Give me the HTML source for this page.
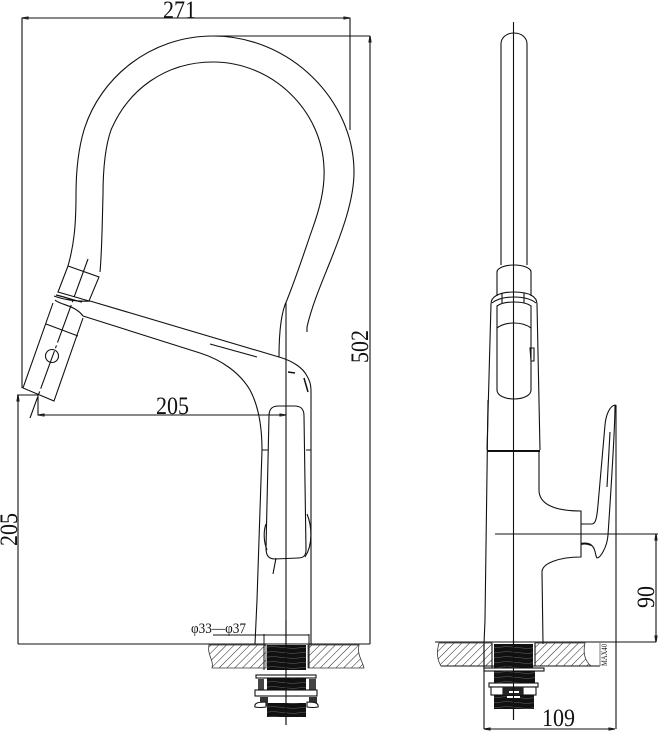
<!DOCTYPE html>
<html><head><meta charset="utf-8"><style>
html,body{margin:0;padding:0;background:#fff}
svg{display:block}
text{font-family:"Liberation Serif",serif;fill:#111}
</style></head><body>
<svg width="658" height="732" viewBox="0 0 658 732" xmlns="http://www.w3.org/2000/svg">
<defs>
<pattern id="h" width="5.500" height="5.500" patternUnits="userSpaceOnUse" patternTransform="rotate(45)"><line x1="0" y1="0" x2="0" y2="5.500" stroke="#222" stroke-width="1"/></pattern>
<pattern id="t" width="39" height="5" patternUnits="userSpaceOnUse"><rect width="39" height="5" fill="#111"/><path d="M0 1.500L20 3.500L39 1.500" stroke="#666" stroke-width=".5" fill="none"/></pattern>
</defs>
<g fill="none" stroke="#111" stroke-width="1.100">
<!-- dims left -->
<path d="M22 388V18H350V130M17 395H38V415H286M18 395V644M18 644H370M370 36V644M213 36H370"/>
<path d="M22 18l6 -1v2zM350 18l-6 -1v2z" fill="#555"/>
<path d="M38 415l6 -1v2zM286 415l-6 -1v2z" fill="#555"/>
<path d="M18 395l-1 6h2zM370 36l-1 6h2z" fill="#555"/>
<path d="M286 303V725"/>
<!-- tube -->
<path d="M279 357C279 330 282 310 287 300C297 275 305 250 312 230C320 208 325 188 324 168C322 110 272 62 213 62C165 62 128 90 111 130C104 150 103 175 103 195C102 230 102 250 100 272"/>
<path d="M307 332V327C312 305 322 282 330 262C342 232 354 200 354 172C354 100 290 36 213 36C150 36 100 78 84 130C78 150 76 175 76 195C76 225 74 245 68 266"/>
<path d="M68 266L99 277L89 301L58 292Z"/>
<path d="M53 303L23 388L54 401L83 318"/>
<path d="M46 324L78 336"/>
<circle cx="52" cy="356" r="6.500"/>
<path d="M54 296C62 299 76 302 90 301M55 300C60 305 75 305 83 316M56 295C62 296 72 300 82 302" stroke-width="1.200"/>
<path d="M90 301L279 357C293 361 303 368 307 376C310 381 311 385 311 392V442"/>
<path d="M83 316L200 353C222 360 240 373 250 390C258 405 262 425 262 450L257 600L255 644"/>
<path d="M210 344L257 357"/>
<path d="M88 259L30 418" stroke-dasharray="40 3 3 3"/>
<path d="M311 442V644"/>
<path d="M269 416C269 408 273 406 279 406H294C300 406 304 408 304 416L306 550C306 556 303 558 298 558L275 559C269 559 266 556 266 548Z"/>
<path d="M262 450H268M306 450H311"/>
<path d="M266 524C263 532 264 543 267 550M307 514C312 526 313 545 305 557M276 558L273 574"/>
<path d="M288 372L295 373M304 378L308 392" stroke-width="1.500"/>
<!-- right view -->
<path d="M501 265V44C501 38 506 33 514 33C522 33 527 38 527 44V265"/>
<path d="M513.500 22V720"/>
<path d="M497 296V272C497 268 505 265 514 265C523 265 531 268 531 272V296"/>
<path d="M487 450L491 304C491 297 498 292 514 292C530 292 537 297 537 304L540 450"/>
<path d="M492 303C497 299 505 297 514 297C523 297 531 299 536 303M502 293V303M524 293V303"/>
<path d="M497 306C501 303 507 302 514 302C521 302 527 303 531 306V390C531 396 522 399 514 399C506 399 497 396 497 390Z"/>
<path d="M497 328C501 325 507 323 514 323C521 323 527 325 531 328"/>
<path d="M530 348H534V361H531Z"/>
<path d="M487 451H540" stroke-width="2"/>
<path d="M488 400L485 620L484 644"/>
<path d="M539 451V490C539 503 552 511 581 511V557C560 557 542 563 542 572L543 644"/>
<path d="M581 524H592C596 524 597 516 598 505L605 425C606 414 610 406 615 405C615 430 611 490 608 535C607 548 600 558 597 558C595 556 596 548 591 545C588 543 585 544 581 544"/>
<path d="M581 544C585 543 589 544 591 545" stroke-width="2"/>
<path d="M610 432L607 487"/>
<path d="M495 534H658M616 405V729M656 534V642M435 642H656M484 644V729M484 729H615"/>
<path d="M656 534l-1 6h2zM656 642l-1 -6h2zM484 729l6 -1v2zM615 729l-6 -1v2z" fill="#555"/>
</g>
<!-- base left -->
<path d="M209 645H266V668H212C214 660 207 655 209 645Z" fill="url(#h)" stroke="#333" stroke-width=".8"/>
<path d="M308 645H359C357 655 362 660 364 668H308Z" fill="url(#h)" stroke="#333" stroke-width=".8"/>
<rect x="267" y="645" width="39" height="25" fill="url(#t)"/>
<rect x="267" y="678" width="39" height="12" fill="url(#t)"/>
<rect x="258" y="679" width="6" height="11" fill="#444"/>
<rect x="309" y="679" width="7" height="11" fill="#444"/>
<rect x="267" y="703" width="39" height="14" fill="url(#t)"/>
<rect x="260" y="697" width="8" height="9" fill="#333"/>
<rect x="309" y="697" width="8" height="9" fill="#333"/>
<g fill="#fff" stroke="#111" stroke-width="1.100">
<rect x="256" y="675" width="60" height="3"/>
<rect x="255" y="690" width="62" height="6"/>
<path d="M255 707C254 703 258 702 266 702V707Q260 708 255 707ZM318 707C319 703 315 702 307 702V707Q313 708 318 707Z"/>
</g>
<g fill="none" stroke="#111" stroke-width="1">
<path d="M264 634V644M309 634V644M213 635H309"/>
<path d="M264 645V670M309 645V668"/>
<path d="M286 620V725" stroke-width="1.100"/>
</g>
<!-- base right -->
<path d="M439 643H492V666H441C436 658 437 650 439 643Z" fill="url(#h)" stroke="#333" stroke-width=".8"/>
<path d="M535 643H585C583 652 584 660 591 666H535Z" fill="url(#h)" stroke="#333" stroke-width=".8"/>
<rect x="494" y="644" width="39" height="24" fill="url(#t)"/>
<rect x="494" y="671" width="41" height="12" fill="url(#t)"/>
<rect x="494" y="695" width="40" height="14" fill="url(#t)"/>
<g fill="#fff" stroke="#111" stroke-width="1.100">
<rect x="484" y="668" width="60" height="3"/>
<rect x="489" y="683" width="49" height="4"/>
<rect x="491" y="687" width="12" height="8"/>
<rect x="523" y="687" width="13" height="8"/>
</g>
<rect x="503" y="687" width="20" height="8" fill="#222"/>
<rect x="509" y="691" width="10" height="2" fill="#fff"/>
<rect x="507" y="696" width="13" height="2" fill="#fff"/>
<g fill="none" stroke="#111" stroke-width="1.100">
<path d="M441 666H600M492 643V668M535 643V666M484 644V668M513.500 640V720"/>
<path d="M600 643V666" stroke="#888"/>
</g>
<text x="163" y="18" font-size="25" textLength="33" lengthAdjust="spacingAndGlyphs">271</text>
<text x="156" y="414" font-size="25" textLength="33" lengthAdjust="spacingAndGlyphs">205</text>
<text transform="translate(17,546) rotate(-90)" font-size="25" textLength="33" lengthAdjust="spacingAndGlyphs">205</text>
<text transform="translate(368,363) rotate(-90)" font-size="25" textLength="33" lengthAdjust="spacingAndGlyphs">502</text>
<text transform="translate(654,608) rotate(-90)" font-size="25" textLength="22" lengthAdjust="spacingAndGlyphs">90</text>
<text x="542" y="726" font-size="25" textLength="33" lengthAdjust="spacingAndGlyphs">109</text>
<text x="191" y="633" font-size="15" textLength="55" lengthAdjust="spacingAndGlyphs">φ33—φ37</text>
<text transform="translate(607,666) rotate(-90)" font-size="8.500" textLength="22" lengthAdjust="spacingAndGlyphs">MAX40</text>
</svg>
</body></html>
